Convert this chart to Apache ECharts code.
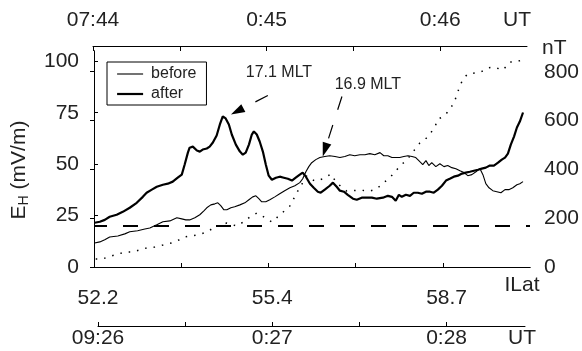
<!DOCTYPE html>
<html><head><meta charset="utf-8">
<script src="https://cdn.jsdelivr.net/npm/echarts@6/dist/echarts.min.js"></script>
<style>html,body{margin:0;padding:0;background:#fff}#c{width:582px;height:351px}</style>
</head><body><div id="c"></div>
<script>
// ---- data (time in seconds from the first tick, 30 s per tick) ----
const beforeTime = [0.2,2.0,3.7,5.4,8.2,10.6,12.3,15.0,17.5,19.2,21.6,23.7,26.1,28.5,30.2,31.6,32.9,34.7,36.4,37.8,38.8,40.2,41.6,42.6,43.6,44.7,45.7,47.1,48.4,50.2,51.9,53.3,54.6,55.7,56.7,57.7,59.1,60.5,62.2,63.9,65.6,67.4,69.1,70.8,71.8,72.9,73.9,74.9,76.3,77.7,79.4,81.1,82.9,84.6,86.3,88.0,89.7,91.5,93.2,94.9,96.6,98.4,99.7,101.1,102.5,103.9,105.2,106.6,108.0,109.4,110.7,112.1,113.1,114.2,115.2,116.2,117.6,119.0,120.4,121.7,123.1,124.5,125.9,127.3,128.6,130.0,131.4,132.8,133.8,134.8,135.9,137.2,138.6,140.0,141.4,142.7,144.1,145.5,146.5,147.6];
const beforeEH = [11.7,12.2,13.2,14.6,15.1,16.1,17.1,17.6,18.5,19.0,20.5,22.0,22.4,23.9,23.4,22.9,22.9,23.9,25.4,27.3,28.8,30.2,30.7,31.2,29.8,27.8,27.8,28.8,29.3,30.2,31.2,32.7,34.1,34.6,33.2,31.7,31.7,32.7,34.1,35.6,37.1,38.5,39.5,41.0,42.9,46.3,48.8,50.7,52.2,53.2,53.7,54.1,53.7,53.2,53.7,54.6,54.1,54.6,54.6,55.1,54.6,55.6,54.1,54.1,53.2,53.2,53.2,53.7,54.1,53.7,53.2,51.2,49.8,51.7,49.3,50.7,48.8,50.2,48.8,49.3,48.3,47.8,46.8,45.9,44.4,44.9,46.3,47.8,44.9,40.5,38.5,37.1,36.6,36.1,37.6,37.6,38.5,40.0,40.5,41.5];
const afterTime = [0.2,2.0,3.7,5.4,7.8,9.9,12.3,14.7,16.8,18.1,19.9,21.6,23.7,25.4,27.1,28.8,30.2,31.2,32.3,32.9,34.0,35.4,36.4,37.4,38.8,39.8,40.9,42.2,43.3,44.3,45.3,46.4,47.4,48.8,50.2,51.2,52.2,53.3,54.3,55.0,56.0,57.0,58.1,59.1,60.1,61.2,62.6,63.9,65.3,66.7,68.1,69.4,70.8,71.8,72.9,74.3,75.6,77.0,78.0,79.4,81.1,82.2,83.5,84.6,86.0,87.3,89.1,90.4,92.1,93.9,95.6,97.3,99.4,101.1,102.5,103.8,104.9,105.9,107.3,108.7,110.0,111.4,112.8,114.2,115.6,116.9,118.3,119.7,121.1,122.4,123.8,125.2,126.6,127.9,129.3,130.7,132.1,133.4,134.8,136.2,137.6,139.0,140.3,141.4,142.4,143.4,144.5,145.5,146.5,147.6];
const afterEH = [21.5,22.0,22.9,24.4,25.4,26.8,28.8,31.2,34.1,36.1,37.6,39.0,40.0,40.5,41.5,43.4,44.9,49.8,55.6,58.0,58.5,56.6,56.1,57.1,57.6,58.5,60.5,63.9,69.3,73.2,72.2,69.3,64.4,59.5,56.1,54.6,55.6,59.5,64.4,65.9,64.4,61.0,56.1,49.8,44.4,42.4,43.4,43.9,43.4,42.9,42.0,43.4,44.9,45.9,43.9,40.5,38.5,36.6,36.1,37.6,39.5,41.0,39.0,37.1,36.6,35.1,33.2,32.7,33.7,33.7,33.7,33.2,33.7,34.6,34.1,32.2,35.1,34.1,35.1,34.6,36.1,36.1,35.6,36.6,36.6,36.1,37.6,39.5,42.0,42.9,43.9,44.4,45.4,45.9,46.3,46.8,47.3,47.8,48.3,49.3,49.3,50.7,52.2,53.2,55.1,59.5,63.4,67.8,70.7,75.1];
const magTime = [0.6,3.0,4.7,7.1,10.6,13.3,15.7,18.1,20.9,23.7,27.8,31.2,35.4,38.8,41.6,45.7,49.1,51.9,53.6,56.0,58.4,61.2,63.9,67.4,70.1,73.2,76.0,78.7,81.5,83.5,87.0,91.5,94.9,97.3,99.4,101.4,103.5,105.6,107.6,109.7,112.1,114.9,117.3,118.3,120.0,122.4,124.2,125.5,126.9,128.6,131.0,133.1,135.2,137.6,140.7,143.1,145.1,147.2];
const magNT = [33,33,41,49,61,61,70,78,82,90,102,123,131,143,164,180,168,188,205,221,205,184,213,250,311,373,352,361,381,344,311,315,311,320,344,361,389,418,438,471,508,533,574,606,615,643,684,729,770,791,795,799,815,819,807,840,840,848];
const thresholdEH = 20;

// ---- ticks and tick labels ----
const tickTimes = [0, 30, 60, 90, 120];
const labelTimes = [0, 60, 120];
const topUTLabels = ['07:44', '0:45', '0:46'];
const ilatLabels = ['52.2', '55.4', '58.7'];
const bottomUTLabels = ['09:26', '0:27', '0:28'];
const leftTicks = [0, 25, 50, 75, 100];
const rightTicks = [0, 200, 400, 600, 800];
const seriesNames = ['before', 'after'];
const seriesWidths = [1.1, 2.2];
// annotation anchors in data units [time, E_H]
const mlt171 = {text: '17.1 MLT', label: [52.2, 94.6], tail: [59.8, 83.4], tip: [47.1, 74.1]};
const mlt169 = {text: '16.9 MLT', label: [82.8, 88.8], tail: [85.3, 82.9], tip: [78.7, 53.7]};

const FONT = 'Liberation Sans, Arial, Helvetica, sans-serif';
const TXT = '#222';
const zip = (a, b) => a.slice(0, Math.min(a.length, b.length)).map((v, i) => [v, b[i]]);
const lab = (arr) => (v) => { const i = labelTimes.indexOf(Math.round(v)); return i >= 0 ? arr[i] : ''; };
const line = {lineStyle: {color: '#000', width: 1}};

const chart = echarts.init(document.getElementById('c'), null, {renderer: 'canvas'});
chart.setOption({
  animation: false,
  backgroundColor: '#fff',
  grid: [
    {left: 94, right: 52, top: 51, bottom: 84, outerBoundsMode: 'none'},
    {left: 93, right: 55, top: 44, height: 2, outerBoundsMode: 'none'},
    {left: 98, right: 57, top: 312, height: 14, outerBoundsMode: 'none'}
  ],
  legend: {
    data: seriesNames.map((n, i) => ({name: n, lineStyle: {color: '#000', width: seriesWidths[i]}})),
    orient: 'vertical', left: 107, top: 62, selectedMode: false,
    itemWidth: 26, itemHeight: 14, itemGap: 4, padding: [4, 10, 3, 9],
    borderColor: '#000', borderWidth: 1,
    itemStyle: {color: 'rgba(0,0,0,0)', borderColor: 'rgba(0,0,0,0)', borderWidth: 0, opacity: 0},
    textStyle: {fontSize: 16, fontFamily: FONT, color: TXT, padding: [0, 0, 0, 3]}
  },
  xAxis: [
    {gridIndex: 0, type: 'value', min: 0, max: 150, position: 'bottom',
     axisLine: line, axisTick: {inside: true, length: 4, customValues: [30, 60, 90, 120], lineStyle: {color: '#000'}},
     axisLabel: {show: false}, splitLine: {show: false}},
    {gridIndex: 0, type: 'value', min: 0, max: 150, position: 'top',
     axisLine: line, axisTick: {show: false}, axisLabel: {show: false}, splitLine: {show: false}},
    {gridIndex: 1, type: 'value', min: 0, max: 150, position: 'top',
     axisLine: line, axisTick: {inside: true, length: 5, customValues: tickTimes, lineStyle: {color: '#000'}},
     axisLabel: {customValues: labelTimes, formatter: lab(topUTLabels), fontSize: 21, fontFamily: FONT, color: TXT, margin: 13},
     splitLine: {show: false}},
    {gridIndex: 2, type: 'value', min: 0, max: 147, position: 'top',
     axisLine: line, axisTick: {inside: false, length: 4, customValues: tickTimes, lineStyle: {color: '#000'}},
     axisLabel: {customValues: labelTimes, formatter: lab(ilatLabels), fontSize: 21, fontFamily: FONT, color: TXT, margin: 3},
     splitLine: {show: false}},
    {gridIndex: 2, type: 'value', min: 0, max: 147, position: 'bottom',
     axisLine: {show: false}, axisTick: {show: false},
     axisLabel: {customValues: labelTimes, formatter: lab(bottomUTLabels), fontSize: 21, fontFamily: FONT, color: TXT, margin: 2},
     splitLine: {show: false}}
  ],
  yAxis: [
    {gridIndex: 0, type: 'value', min: 0, max: 105, position: 'left',
     axisLine: {show: true, lineStyle: {color: '#000', width: 1}},
     axisTick: {show: true, inside: true, length: 4, customValues: leftTicks, lineStyle: {color: '#000'}},
     axisLabel: {customValues: leftTicks, fontSize: 21, fontFamily: FONT, color: TXT, margin: 15},
     splitLine: {show: false}},
    {gridIndex: 0, type: 'value', min: 0, max: 885, position: 'right',
     axisLine: {show: true, lineStyle: {color: '#000', width: 1}},
     axisTick: {show: true, inside: true, length: 4, customValues: rightTicks, lineStyle: {color: '#000'}},
     axisLabel: {customValues: rightTicks, fontSize: 21, fontFamily: FONT, color: TXT, margin: 14},
     splitLine: {show: false}},
    {gridIndex: 1, type: 'value', show: false},
    {gridIndex: 2, type: 'value', show: false}
  ],
  series: [
    {name: 'nT', type: 'line', xAxisIndex: 0, yAxisIndex: 1, data: zip(magTime, magNT),
     symbol: 'none', lineStyle: {color: '#000', width: 1.5, type: [1.5, 7]}, z: 2},
    {name: seriesNames[0], type: 'line', xAxisIndex: 0, yAxisIndex: 0, data: zip(beforeTime, beforeEH),
     symbol: 'none', color: '#000', lineStyle: {color: '#000', width: seriesWidths[0]}, z: 3,
     markLine: {silent: true, symbol: ['none', 'none'], label: {show: false},
       lineStyle: {color: '#000', width: 2, type: [15, 16], dashOffset: 2},
       emphasis: {disabled: true}, data: [{yAxis: thresholdEH}]}},
    {name: seriesNames[1], type: 'line', xAxisIndex: 0, yAxisIndex: 0, data: zip(afterTime, afterEH),
     symbol: 'none', color: '#000', lineStyle: {color: '#000', width: seriesWidths[1]}, z: 4}
  ]
});

function px(p) { return chart.convertToPixel({xAxisIndex: 0, yAxisIndex: 0}, p); }
function arrow(a) {
  const t = px(a.tail), h = px(a.tip), l = px(a.label);
  const dx = h[0] - t[0], dy = h[1] - t[1], L = Math.hypot(dx, dy), ux = dx / L, uy = dy / L;
  const hl = 14, hw = 4.5;
  const bx = h[0] - ux * hl, by = h[1] - uy * hl;
  return [
    {type: 'text', x: l[0], y: l[1], style: {text: a.text, font: '16px ' + FONT, fill: TXT, align: 'left', verticalAlign: 'middle'}},
    {type: 'line', shape: {x1: t[0], y1: t[1], x2: bx, y2: by}, style: {stroke: '#000', lineWidth: 1.2, lineDash: [14, 16]}},
    {type: 'polygon', shape: {points: [[h[0], h[1]], [bx - uy * hw, by + ux * hw], [bx + uy * hw, by - ux * hw]]}, style: {fill: '#000'}}
  ];
}
chart.setOption({
  graphic: [
    ...arrow(mlt171), ...arrow(mlt169),
    {type: 'text', x: 19, y: 170, rotation: Math.PI / 2,
     style: {text: '{a|E}{b|H}{a| (mV/m)}', align: 'center', verticalAlign: 'middle',
       rich: {a: {fontSize: 21, fontFamily: FONT, fill: TXT, lineHeight: 24, verticalAlign: 'middle'},
              b: {fontSize: 14, fontFamily: FONT, fill: TXT, lineHeight: 24, verticalAlign: 'bottom'}}}},
    {type: 'text', x: 517, y: 20, style: {text: 'UT', font: '21px ' + FONT, fill: TXT, align: 'center', verticalAlign: 'middle'}},
    {type: 'text', x: 522, y: 338, style: {text: 'UT', font: '21px ' + FONT, fill: TXT, align: 'center', verticalAlign: 'middle'}},
    {type: 'text', x: 522, y: 285, style: {text: 'ILat', font: '21px ' + FONT, fill: TXT, align: 'center', verticalAlign: 'middle'}},
    {type: 'text', x: 542, y: 48, style: {text: 'nT', font: '21px ' + FONT, fill: TXT, align: 'left', verticalAlign: 'middle'}}
  ]
});
</script></body></html>
